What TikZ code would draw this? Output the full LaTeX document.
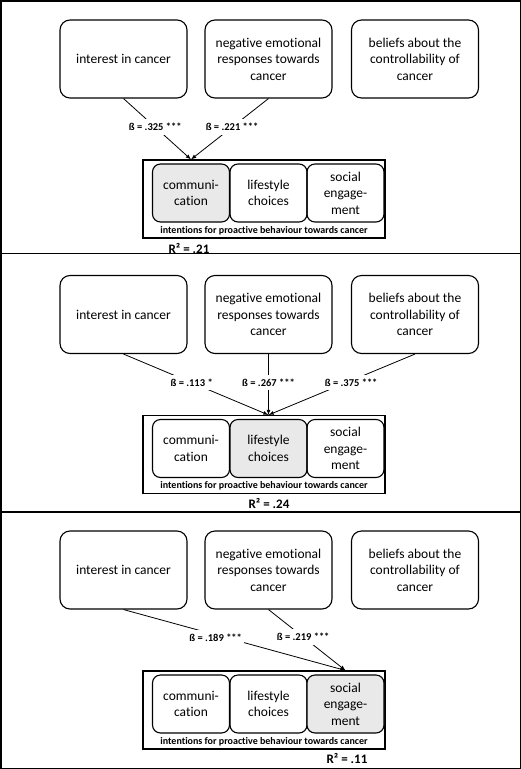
\documentclass[tikz,border=0pt]{standalone}
\usepackage{fontspec}
\setmainfont[Ligatures=NoCommon]{Carlito}
\usetikzlibrary{arrows}

\begin{document}
\begin{tikzpicture}[x=1pt,y=-1pt,
  factor/.style={draw,line width=1.1pt,rounded corners=10pt,minimum width=127pt,minimum height=78pt,align=center,inner sep=0pt,font=\fontsize{13.5}{16.5}\selectfont},
  facet/.style={draw,line width=1.1pt,rounded corners=8pt,minimum width=77pt,minimum height=58pt,align=center,inner sep=0pt,font=\fontsize{13.5}{16.5}\selectfont},
  chosen/.style={facet,fill=gray!17},
  frame/.style={draw,line width=1.1pt,minimum width=242pt,minimum height=78pt,inner sep=0pt},
  beta/.style={fill=white,inner xsep=2pt,inner ysep=4pt,font=\bfseries\fontsize{10.5}{12}\selectfont},
  caption/.style={inner sep=0pt,font=\bfseries\fontsize{10}{12}\selectfont},
  rsq/.style={inner sep=0pt,font=\bfseries\fontsize{13}{15}\selectfont}]
\useasboundingbox (0,0) rectangle (521,769);
\draw[line width=1.5pt] (0.75,0.75) rectangle (520.25,768.25);
\draw[line width=1.5pt] (0,253.5) -- (521,253.5);
\draw[line width=1.5pt] (0,512) -- (521,512);

% communication
\begin{scope}
\node[factor] (A) at (123.5,59) {interest in cancer};
\node[factor] (B) at (268.5,59) {negative emotional\\responses towards\\cancer};
\node[factor] (C) at (415,59) {beliefs about the\\controllability of\\cancer};
\node[frame] (D) at (264,199) {};
\node[chosen] (E) at (191,193) {communi-\\cation};
\node[facet] (F) at (268.5,193) {lifestyle\\choices};
\node[facet] (G) at (345.5,193) {social\\engage-\\ment};
\node[caption] (H) at (264,230.5) {intentions for proactive behaviour towards cancer};
\node[rsq] (R) at (189,248) {R² = .21};
\path[->,>=latex,line width=0.8pt]
(A.south) edge node[beta,pos=.47]{ß = .325 ***} (E |- D.north)
(B.south) edge node[beta,pos=.47]{ß = .221 ***} (E |- D.north);
\end{scope}

% lifestyle choices
\begin{scope}[shift={(0,255.5)}]
\node[factor] (A') at (123.5,59) {interest in cancer};
\node[factor] (B') at (268.5,59) {negative emotional\\responses towards\\cancer};
\node[factor] (C') at (415,59) {beliefs about the\\controllability of\\cancer};
\node[frame] (D') at (264,199) {};
\node[facet] (E') at (191,193) {communi-\\cation};
\node[chosen] (F') at (268.5,193) {lifestyle\\choices};
\node[facet] (G') at (345.5,193) {social\\engage-\\ment};
\node[caption] (H') at (264,230.5) {intentions for proactive behaviour towards cancer};
\node[rsq] (R') at (269,247.5) {R² = .24};
\path[->,>=latex,line width=0.8pt]
(A'.south) edge node[beta,pos=.47]{ß = .113 *} (F' |- D'.north)
(B'.south) edge node[beta,pos=.47]{ß = .267 ***} (F' |- D'.north)
(C'.south) edge node[beta,pos=.47,xshift=5pt]{ß = .375 ***} (F' |- D'.north);
\end{scope}

% social engagement
\begin{scope}[shift={(0,511)}]
\node[factor] (A'') at (123.5,59) {interest in cancer};
\node[factor] (B'') at (268.5,59) {negative emotional\\responses towards\\cancer};
\node[factor] (C'') at (415,59) {beliefs about the\\controllability of\\cancer};
\node[frame] (D'') at (264,199) {};
\node[facet] (E'') at (191,193) {communi-\\cation};
\node[facet] (F'') at (268.5,193) {lifestyle\\choices};
\node[chosen] (G'') at (345.5,193) {social\\engage-\\ment};
\node[caption] (H'') at (264,230.5) {intentions for proactive behaviour towards cancer};
\node[rsq] (R'') at (347,247) {R² = .11};
\path[->,>=latex,line width=0.8pt]
(A''.south) edge node[beta,pos=.46,xshift=-10pt]{ß = .189 ***} (G'' |- D''.north)
(B''.south) edge node[beta,pos=.45]{ß = .219 ***} (G'' |- D''.north);
\end{scope}
\end{tikzpicture}
\end{document}
